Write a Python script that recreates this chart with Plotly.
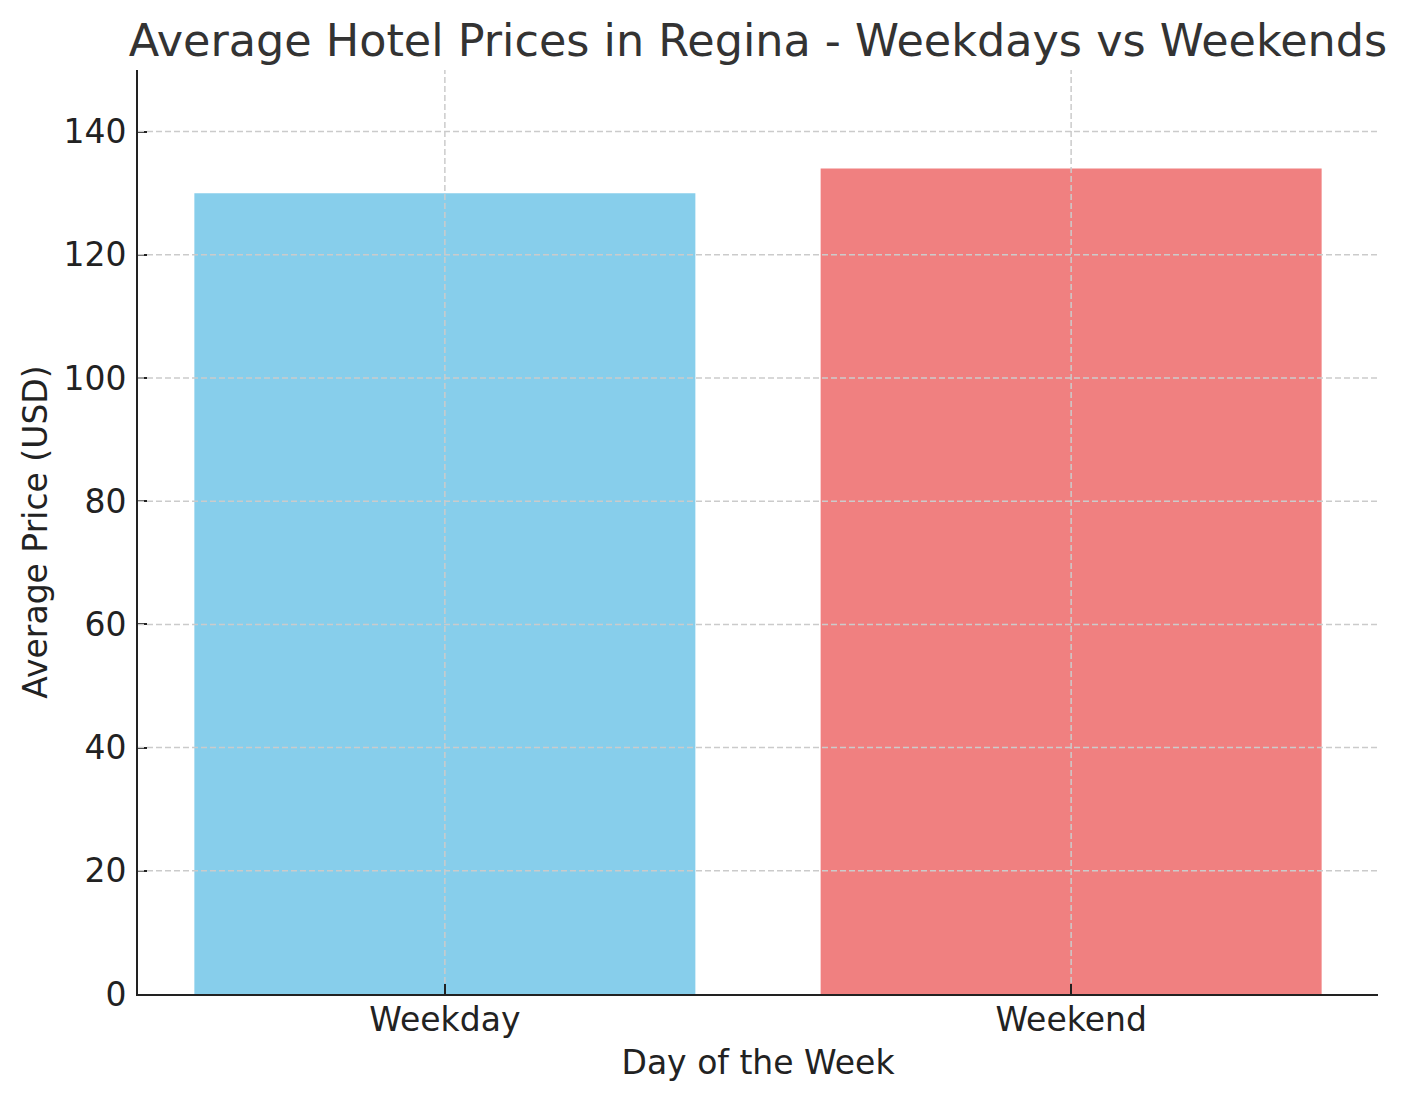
import plotly.graph_objects as go

categories = ["Weekday", "Weekend"]
avg_price = [130, 134]
bar_colors = ["#87CEEB", "#F08080"]
y_ticks = [0, 20, 40, 60, 80, 100, 120, 140]

FONT = "DejaVu Sans"
GRID = "#cbcbcb"
AX = "#222222"

fig = go.Figure(go.Bar(x=categories, y=avg_price, marker_color=bar_colors,
                       marker_line_width=0, width=0.8))

shapes = []
for v in y_ticks[1:]:
    shapes.append(dict(type="line", xref="paper", x0=0, x1=1, yref="y", y0=v, y1=v,
                       line=dict(color=GRID, width=1.5, dash="6px,3px"), layer="above"))
for c in categories:
    shapes.append(dict(type="line", xref="x", x0=c, x1=c, yref="paper", y0=0.012, y1=1,
                       line=dict(color=GRID, width=1.5, dash="6px,3px"), layer="above"))

fig.update_layout(
    width=1406, height=1101,
    margin=dict(l=130, r=36, t=62, b=115),
    paper_bgcolor="white", plot_bgcolor="white",
    font=dict(family=FONT, size=33, color=AX),
    title=dict(text="Average Hotel Prices in Regina - Weekdays vs Weekends",
               font=dict(family=FONT, size=44.5, color="#333333"),
               x=750 / 1406, xanchor="center", yref="container", y=1 - 32 / 1101, yanchor="middle"),
    shapes=shapes,
    showlegend=False,
    bargap=0.2,
)
fig.update_xaxes(
    range=[-0.49, 1.49], showgrid=False, zeroline=False,
    showline=True, linecolor=AX, linewidth=2,
    ticks="inside", ticklen=10, tickwidth=1.5, tickcolor=AX,
    tickfont=dict(family=FONT, size=33, color=AX), ticklabelstandoff=-5,
    title=dict(text="Day of the Week", font=dict(family=FONT, size=33, color=AX), standoff=13),
    layer="above traces",
)
fig.update_yaxes(
    range=[0, 150], tickvals=y_ticks, showgrid=False, zeroline=False,
    showline=True, linecolor=AX, linewidth=2,
    ticks="inside", ticklen=9, tickwidth=1.5, tickcolor=AX,
    tickfont=dict(family=FONT, size=33, color=AX), ticklabelstandoff=3,
    title=dict(text="Average Price (USD)", font=dict(family=FONT, size=33, color=AX), standoff=6),
    layer="above traces",
)

fig.write_html("out.html")
